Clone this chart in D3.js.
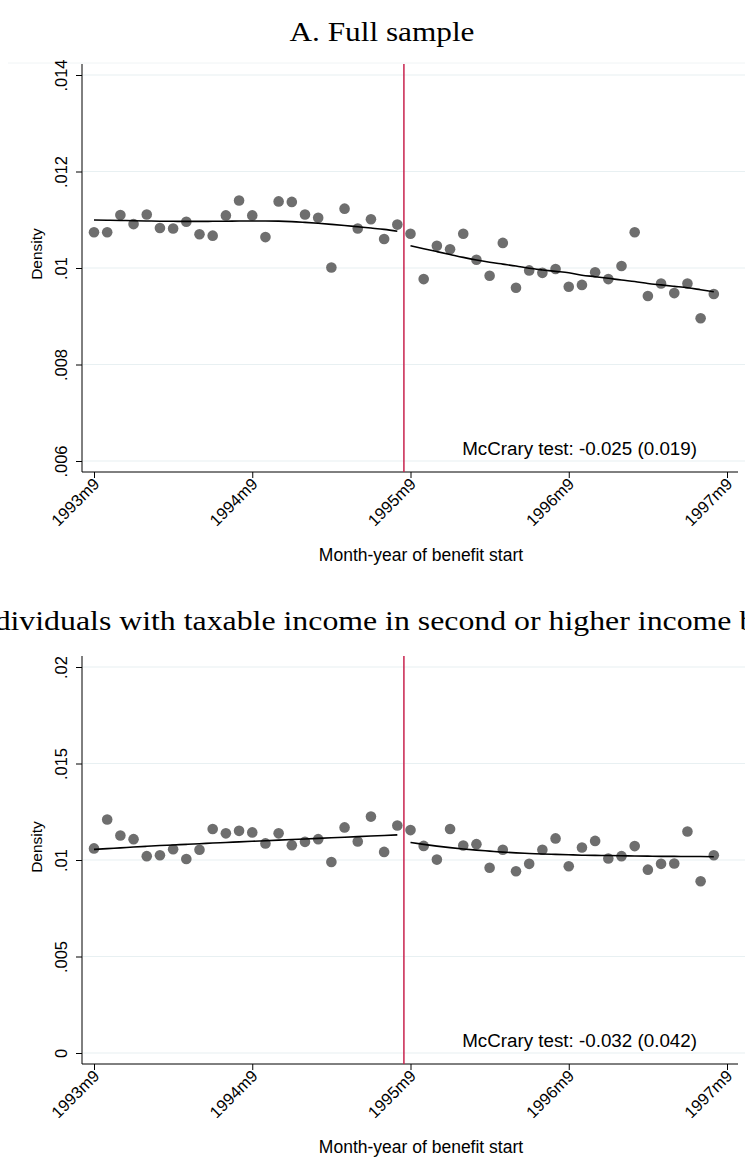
<!DOCTYPE html>
<html>
<head>
<meta charset="utf-8">
<script src="https://cdn.jsdelivr.net/npm/d3@7"></script>
<style>
  html, body { margin: 0; padding: 0; background: #fff; }
  svg { display: block; }
</style>
</head>
<body>
<svg id="chart" width="745" height="1176"></svg>
<script>
// Month index 0 = 1993m9, 47 = 1997m8; cutoff between 1995m8 and 1995m9
const xTickLabels = ["1993m9", "1994m9", "1995m9", "1996m9", "1997m9"];
const xTickMonths = [0, 12, 24, 36, 48];
const cutoffMonth = 23.5;

// Panel A: full sample, binned density by month of benefit start
const densityA = [
  0.01074, 0.01074, 0.01110, 0.01091, 0.01111, 0.01083, 0.01082, 0.01096,
  0.01070, 0.01067, 0.01109, 0.01140, 0.01109, 0.01064, 0.01138, 0.01137,
  0.01111, 0.01104, 0.01001, 0.01123, 0.01082, 0.01101, 0.01060, 0.01090,
  0.01071, 0.00977, 0.01046, 0.01039, 0.01071, 0.01017, 0.00984, 0.01052,
  0.00959, 0.00995, 0.00990, 0.00998, 0.00961, 0.00965, 0.00991, 0.00977,
  0.01004, 0.01074, 0.00942, 0.00968, 0.00948, 0.00968, 0.00896, 0.00946
];
// Local polynomial fits on each side of the cutoff
const fitA_left = [
  0.010995, 0.010990, 0.010985, 0.010980, 0.010975, 0.010970, 0.010968, 0.010966,
  0.010966, 0.010968, 0.010970, 0.010974, 0.010975, 0.010975, 0.010972, 0.010962,
  0.010945, 0.010926, 0.010905, 0.010882, 0.010855, 0.010828, 0.010800, 0.010760
];
const fitA_right = [
  0.010460, 0.010400, 0.010340, 0.010280, 0.010220, 0.010166, 0.010120, 0.010080,
  0.010040, 0.009994, 0.009960, 0.009930, 0.009900, 0.009850, 0.009820, 0.009787,
  0.009750, 0.009720, 0.009680, 0.009650, 0.009620, 0.009590, 0.009550, 0.009509
];
const yTicksA = [0.006, 0.008, 0.010, 0.012, 0.014];
const yTickLabelsA = [".006", ".008", ".01", ".012", ".014"];

// Panel B: individuals with taxable income in second or higher bracket
const densityB = [
  0.01060, 0.01210, 0.01127, 0.01108, 0.01020, 0.01025, 0.01056, 0.01005,
  0.01053, 0.01161, 0.01138, 0.01151, 0.01143, 0.01086, 0.01138, 0.01077,
  0.01094, 0.01108, 0.00990, 0.01169, 0.01096, 0.01225, 0.01042, 0.01179,
  0.01155, 0.01073, 0.01002, 0.01161, 0.01075, 0.01082, 0.00960, 0.01053,
  0.00942, 0.00980, 0.01053, 0.01112, 0.00968, 0.01065, 0.01099, 0.01008,
  0.01020, 0.01072, 0.00950, 0.00980, 0.00982, 0.01148, 0.00890, 0.01025
];
const fitB_left = [
  0.01055, 0.01059, 0.01063, 0.01067, 0.01071, 0.01075, 0.01078, 0.01081,
  0.01084, 0.01088, 0.01091, 0.01094, 0.01097, 0.01100, 0.01103, 0.01106,
  0.01109, 0.01112, 0.01115, 0.01118, 0.01121, 0.01124, 0.01127, 0.01130
];
const fitB_right = [
  0.01091, 0.01081, 0.01072, 0.01064, 0.01057, 0.01051, 0.01046, 0.01041,
  0.01037, 0.01034, 0.01031, 0.01029, 0.01027, 0.01025, 0.01024, 0.01023,
  0.01022, 0.01021, 0.01020, 0.01019, 0.01019, 0.01018, 0.01018, 0.01017
];
const yTicksB = [0, 0.005, 0.010, 0.015, 0.020];
const yTickLabelsB = ["0", ".005", ".01", ".015", ".02"];

const svg = d3.select("#chart");
const SANS = "Liberation Sans, Arial, sans-serif";
const SERIF = "Liberation Serif, Times New Roman, serif";

function drawPanel(cfg) {
  const g = svg.append("g");
  const axisLeft = 82, axisRight = 738;
  const x = d3.scaleLinear().domain([0, 48]).range([94, 727]);
  const y = d3.scaleLinear().domain(cfg.yDomain).range([cfg.top + 397, cfg.top + 11]);
  const plotBottom = cfg.top + 408;

  // horizontal grid
  g.selectAll("line.grid").data(cfg.yTicks).join("line")
    .attr("x1", axisLeft + 1).attr("x2", 745)
    .attr("y1", d => y(d)).attr("y2", d => y(d))
    .attr("stroke", "#e8f0f2").attr("stroke-width", 1.2);

  // y axis
  const yAxis = d3.axisLeft(y).tickValues(cfg.yTicks)
    .tickFormat((d, i) => cfg.yTickLabels[i]).tickSize(6).tickSizeOuter(0);
  const ya = g.append("g").attr("transform", `translate(${axisLeft},0)`).call(yAxis);
  ya.select(".domain").attr("d", `M0,${cfg.top}V${plotBottom}`).attr("stroke", "#000");
  ya.selectAll(".tick line").attr("stroke", "#000");
  ya.selectAll(".tick text")
    .attr("font-family", SANS).attr("font-size", 16.5).attr("fill", "#000")
    .attr("transform", "rotate(-90)")
    .attr("x", 0).attr("y", -15).attr("dy", 0)
    .attr("text-anchor", "middle");

  // x axis
  const xAxis = d3.axisBottom(x).tickValues(xTickMonths)
    .tickFormat((d, i) => xTickLabels[i]).tickSize(6).tickSizeOuter(0);
  const xa = g.append("g").attr("transform", `translate(0,${plotBottom})`).call(xAxis);
  xa.select(".domain").attr("d", `M${axisLeft},0H${axisRight}`).attr("stroke", "#000");
  xa.selectAll(".tick line").attr("stroke", "#000");
  xa.selectAll(".tick text")
    .attr("font-family", SANS).attr("font-size", 16.5).attr("fill", "#000")
    .attr("text-anchor", "end").attr("x", 0).attr("y", 0).attr("dy", 0)
    .attr("transform", "translate(6,13) rotate(-45)");

  // axis titles
  g.append("text")
    .attr("transform", `translate(42,${cfg.densityY}) rotate(-90)`)
    .attr("text-anchor", "middle").attr("font-family", SANS).attr("font-size", 15.5)
    .text("Density");
  g.append("text")
    .attr("x", 421).attr("y", plotBottom + 89)
    .attr("text-anchor", "middle").attr("font-family", SANS).attr("font-size", 17.5)
    .text("Month-year of benefit start");

  // cutoff line
  g.append("line")
    .attr("x1", x(cutoffMonth)).attr("x2", x(cutoffMonth))
    .attr("y1", cfg.top).attr("y2", plotBottom)
    .attr("stroke", "#c8234e").attr("stroke-width", 1.5);

  // bin points
  g.selectAll("circle.pt").data(cfg.density).join("circle")
    .attr("cx", (d, i) => x(i)).attr("cy", d => y(d)).attr("r", 5.3)
    .attr("fill", "#6e6e6e");

  // fitted curves
  const line = d3.line().curve(d3.curveMonotoneX).x(d => x(d[0])).y(d => y(d[1]));
  g.append("path").datum(cfg.fitLeft.map((v, i) => [i, v]))
    .attr("d", line).attr("fill", "none").attr("stroke", "#000").attr("stroke-width", 1.6);
  g.append("path").datum(cfg.fitRight.map((v, i) => [i + 24, v]))
    .attr("d", line).attr("fill", "none").attr("stroke", "#000").attr("stroke-width", 1.6);

  // test statistic
  g.append("text")
    .attr("x", 697).attr("y", cfg.top + 391)
    .attr("text-anchor", "end").attr("font-family", SANS).attr("font-size", 18.8)
    .text(cfg.testLabel);
}

// panel titles
svg.append("text")
  .attr("x", 382).attr("y", 41).attr("text-anchor", "middle")
  .attr("font-family", SERIF).attr("font-size", 27)
  .attr("textLength", 185).attr("lengthAdjust", "spacingAndGlyphs")
  .text("A. Full sample");
svg.append("line").attr("x1", 8).attr("x2", 745).attr("y1", 63).attr("y2", 63)
  .attr("stroke", "#f0f4f5").attr("stroke-width", 1);

svg.append("text")
  .attr("x", 382).attr("y", 630).attr("text-anchor", "middle")
  .attr("font-family", SERIF).attr("font-size", 27)
  .attr("textLength", 902).attr("lengthAdjust", "spacingAndGlyphs")
  .text("B. Individuals with taxable income in second or higher income bracket");

drawPanel({
  top: 64, yDomain: [0.006, 0.014], yTicks: yTicksA, yTickLabels: yTickLabelsA,
  density: densityA, fitLeft: fitA_left, fitRight: fitA_right,
  densityY: 254, testLabel: "McCrary test: -0.025 (0.019)"
});
drawPanel({
  top: 656, yDomain: [0, 0.020], yTicks: yTicksB, yTickLabels: yTickLabelsB,
  density: densityB, fitLeft: fitB_left, fitRight: fitB_right,
  densityY: 847, testLabel: "McCrary test: -0.032 (0.042)"
});
</script>
</body>
</html>
